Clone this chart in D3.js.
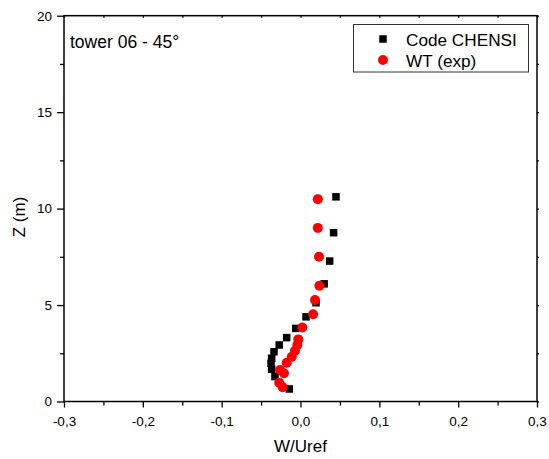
<!DOCTYPE html>
<html>
<head>
<meta charset="utf-8">
<script src="https://cdn.jsdelivr.net/npm/d3@7"></script>
<style>
  html, body { margin: 0; padding: 0; background: #fff; }
  svg { display: block; font-family: "Liberation Sans", Arial, sans-serif; }
</style>
</head>
<body>
<svg id="chart" width="549" height="459"></svg>
<script>
// ---- data ----
const seriesNames = ["Code CHENSI", "WT (exp)"];
const chensiW = [0.045, 0.042, 0.037, 0.030, 0.0197, 0.007, -0.006, -0.0175, -0.027, -0.0336, -0.0366, -0.0374, -0.0366, -0.0324, -0.0142];
const chensiZ = [10.61, 8.75, 7.28, 6.10, 5.12, 4.39, 3.79, 3.31, 2.93, 2.58, 2.24, 1.98, 1.67, 1.29, 0.65];
const wtW = [0.022, 0.022, 0.0235, 0.024, 0.0184, 0.016, 0.0023, -0.0028, -0.004, -0.007, -0.011, -0.0175, -0.026, -0.021, -0.027, -0.0226];
const wtZ = [10.49, 9.0, 7.5, 6.0, 5.26, 4.52, 3.84, 3.22, 2.93, 2.63, 2.32, 2.01, 1.63, 1.46, 0.97, 0.74];
const xTicks = [-0.3, -0.2, -0.1, 0.0, 0.1, 0.2, 0.3];
const xMinorTicks = [-0.25, -0.15, -0.05, 0.05, 0.15, 0.25];
const yTicks = [0, 5, 10, 15, 20];
const yMinorTicks = [2.5, 7.5, 12.5, 17.5];
const xTitle = "W/Uref";
const yTitle = "Z (m)";
const annotation = "tower 06 - 45°";

// ---- layout ----
const svg = d3.select("#chart");
const L = 64, R = 537, T = 15.7, B = 401.5;
const x = d3.scaleLinear().domain([-0.3, 0.3]).range([L, R]);
const y = d3.scaleLinear().domain([0, 20]).range([B, T]);
const fmt = d => d3.format(".1f")(d).replace(".", ",").replace("−", "-");

// frame
svg.append("rect").attr("x", L).attr("y", T).attr("width", R - L).attr("height", B - T)
  .attr("fill", "none").attr("stroke", "#000").attr("stroke-width", 1.5);

// bottom axis
svg.append("g").attr("transform", `translate(0,${B})`)
  .call(d3.axisBottom(x).tickValues(xTicks).tickSize(6).tickPadding(9).tickFormat(fmt));
svg.append("g").attr("transform", `translate(0,${B})`)
  .call(d3.axisBottom(x).tickValues(xMinorTicks).tickSize(4).tickFormat(""));
// top ticks (inward)
svg.append("g").attr("transform", `translate(0,${T})`)
  .call(d3.axisBottom(x).tickValues(xTicks.concat(xMinorTicks)).tickSize(2).tickFormat(""));
// left axis
svg.append("g").attr("transform", `translate(${L},0)`)
  .call(d3.axisLeft(y).tickValues(yTicks).tickSize(7).tickPadding(5).tickFormat(d3.format("d")));
svg.append("g").attr("transform", `translate(${L},0)`)
  .call(d3.axisLeft(y).tickValues(yMinorTicks).tickSize(4).tickFormat(""));
// right ticks (outward)
svg.append("g").attr("transform", `translate(${R},0)`)
  .call(d3.axisRight(y).tickValues(yTicks.concat(yMinorTicks)).tickSize(2).tickFormat(""));

svg.selectAll(".domain").remove();
svg.selectAll(".tick line").attr("stroke", "#000").attr("stroke-width", 1.3);
svg.selectAll(".tick text").attr("fill", "#000").attr("font-size", 13.5)
  .attr("font-family", "'Liberation Sans', Arial, sans-serif");

// titles
svg.append("text").attr("x", (L + R) / 2).attr("y", 452).attr("text-anchor", "middle")
  .attr("font-size", 17).text(xTitle);
svg.append("text").attr("transform", `translate(25,${217}) rotate(-90)`).attr("text-anchor", "middle")
  .attr("font-size", 17).text(yTitle);
svg.append("text").attr("x", 70).attr("y", 48).attr("font-size", 17.5).text(annotation);

// data
const chensi = chensiW.map((w, i) => ({ w, z: chensiZ[i] }));
const wt = wtW.map((w, i) => ({ w, z: wtZ[i] }));
const sq = 7.5;
svg.append("g").selectAll("rect").data(chensi).join("rect")
  .attr("x", d => x(d.w) - sq / 2).attr("y", d => y(d.z) - sq / 2)
  .attr("width", sq).attr("height", sq).attr("fill", "#000");
svg.append("g").selectAll("circle").data(wt).join("circle")
  .attr("cx", d => x(d.w)).attr("cy", d => y(d.z)).attr("r", 5).attr("fill", "#ff0000");

// legend
const lg = svg.append("g");
lg.append("rect").attr("x", 353.5).attr("y", 24.5).attr("width", 175).attr("height", 47.5)
  .attr("fill", "#fff").attr("stroke", "#333").attr("stroke-width", 1);
lg.append("rect").attr("x", 383 - sq / 2).attr("y", 39 - sq / 2).attr("width", sq).attr("height", sq).attr("fill", "#000");
lg.append("circle").attr("cx", 383).attr("cy", 60).attr("r", 5).attr("fill", "#ff0000");
lg.append("text").attr("x", 406).attr("y", 46).attr("font-size", 17.2).text(seriesNames[0]);
lg.append("text").attr("x", 406).attr("y", 67).attr("font-size", 17.2).text(seriesNames[1]);
</script>
</body>
</html>
